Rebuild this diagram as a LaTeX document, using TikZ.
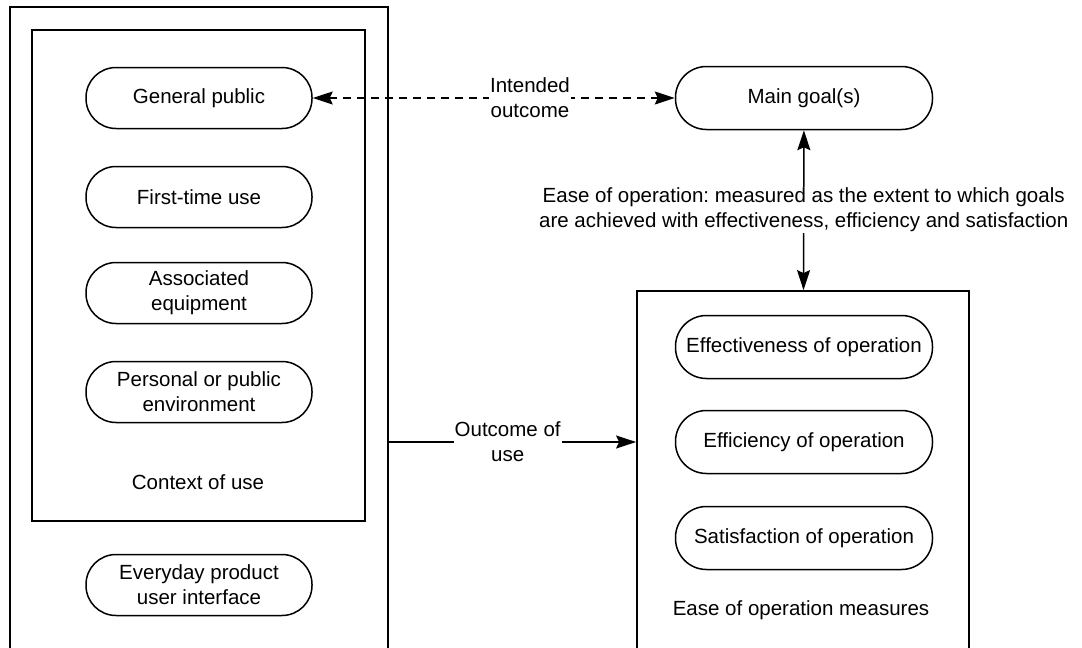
\documentclass[tikz,border=0pt]{standalone}
\usepackage{fontspec}
\setmainfont{Liberation Sans}
\usetikzlibrary{arrows.meta}
\frenchspacing

\begin{document}
\begin{tikzpicture}[x=1pt, y=-1pt,
font=\fontsize{20.5}{25}\selectfont,
pill/.style={draw, line width=1.5pt, rectangle, rounded corners=30pt, minimum width=226pt, minimum height=61pt, inner sep=0, align=center},
widepill/.style={pill, minimum width=257pt, minimum height=63pt, rounded corners=31pt},
boxframe/.style={draw, line width=1.8pt, rectangle, inner sep=0},
link/.style={line width=1.5pt},
tipend/.style={-{Stealth[length=20pt, width=13pt, inset=3pt]}},
tipboth/.style={{Stealth[length=20pt, width=13pt, inset=3pt]}-{Stealth[length=20pt, width=13pt, inset=3pt]}},
linklabel/.style={fill=white, inner sep=1pt, align=center},
]
\useasboundingbox (0,0) rectangle (1082,648); %%%%%%% SIZE OF THE PICTURE

%%%%%%%%%%%%%%%%%%%%%%%% FRAMES %%%%%%%%%%%%%%%%%%%%%%%%%%%
\node[boxframe, line width=2.2pt, minimum width=378pt, minimum height=653pt] (product) at (199,333.5) {};
\node[boxframe, minimum width=333pt, minimum height=491pt] (context) at (198.5,275.5) {};
\node[boxframe, minimum width=332pt, minimum height=369pt] (measures) at (803,475.5) {};

%%%%%%%%%%%%%%%%%%%%%%%% CONTEXT OF USE %%%%%%%%%%%%%%%%%%%%%%%%%%%
\node[pill] (public) at (199,98) {General public};
\node[pill] (firsttime) at (199,197) {First-time use};
\node[pill] (equipment) at (199,293) {Associated\\equipment};
\node[pill] (environment) at (199,392) {Personal or public\\environment};
\node (contexttitle) at (198,482) {Context of use};
\node[pill] (interface) at (199,585) {Everyday product\\user interface};

%%%%%%%%%%%%%%%%%%%%%%%% GOAL AND MEASURES %%%%%%%%%%%%%%%%%%%%%%%%%%%
\node[widepill] (goal) at (804,98) {Main goal(s)};
\node[widepill] (effectiveness) at (804,347) {Effectiveness of operation};
\node[widepill] (efficiency) at (804,442) {Efficiency of operation};
\node[widepill] (satisfaction) at (804,538) {Satisfaction of operation};
\node (measurestitle) at (801,610) {Ease of operation measures};

%%%%%%%%%%%%%%%%%%%%%%%% CONNECTORS %%%%%%%%%%%%%%%%%%%%%%%%%%%
\draw[link, tipboth, dash pattern=on 8pt off 6pt] (public) -- (goal) node[linklabel, pos=.6]{Intended\\outcome};
\draw[link, tipboth] (goal) -- (measures) node[linklabel, midway]{Ease of operation: measured as the extent to which goals\\are achieved with effectiveness, efficiency and satisfaction};
\draw[link, tipend] (product.east |- efficiency) -- (measures.west |- efficiency) node[linklabel, pos=.48]{Outcome of\\use};
\end{tikzpicture}
\end{document}
